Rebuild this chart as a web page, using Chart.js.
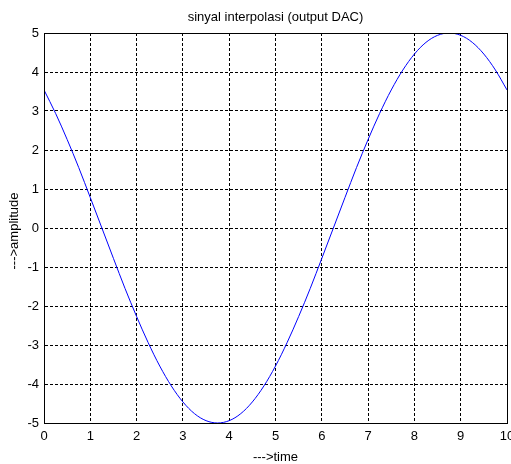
<!DOCTYPE html>
<html>
<head>
<meta charset="utf-8">
<script src="https://cdn.jsdelivr.net/npm/chart.js@4/dist/chart.umd.min.js"></script>
<style>
html,body{margin:0;padding:0;background:#fff;}
#wrap{width:511px;height:464px;position:relative;}
</style>
</head>
<body>
<div id="wrap"><canvas id="c" width="511" height="464"></canvas></div>
<script>
const chartTitle = "sinyal interpolasi (output DAC)";
const xLabel = "--->time";
const yLabel = "--->amplitude";
const timeValues = [0,0.25,0.5,0.75,1,1.25,1.5,1.75,2,2.25,2.5,2.75,3,3.25,3.5,3.75,4,4.25,4.5,4.75,5,5.25,5.5,5.75,6,6.25,6.5,6.75,7,7.25,7.5,7.75,8,8.25,8.5,8.75,9,9.25,9.5,9.75,10];
const amplitudeValues = [3.54,2.94,2.27,1.55,0.78,0,-0.78,-1.55,-2.27,-2.94,-3.54,-4.05,-4.46,-4.76,-4.94,-5,-4.94,-4.76,-4.46,-4.05,-3.54,-2.94,-2.27,-1.55,-0.78,0,0.78,1.55,2.27,2.94,3.54,4.05,4.46,4.76,4.94,5,4.94,4.76,4.46,4.05,3.54];
const xTicks = [0,1,2,3,4,5,6,7,8,9,10];
const yTicks = [-5,-4,-3,-2,-1,0,1,2,3,4,5];

const FONT = "'Liberation Sans', Arial, sans-serif";

const decor = {
  id: 'decor',
  afterDraw(chart) {
    const ctx = chart.ctx;
    const a = chart.chartArea;
    ctx.save();
    ctx.strokeStyle = '#000';
    ctx.lineWidth = 1;
    ctx.setLineDash([]);
    ctx.strokeRect(Math.round(a.left) + 0.5, Math.round(a.top) + 0.5, Math.round(a.right - a.left), Math.round(a.bottom - a.top));
    ctx.fillStyle = '#000';
    ctx.textAlign = 'center';
    ctx.textBaseline = 'middle';
    ctx.font = '13px ' + FONT;
    ctx.fillText(chartTitle, (a.left + a.right) / 2, 17);
    ctx.fillText(xLabel, (a.left + a.right) / 2, 457);
    ctx.translate(14, (a.top + a.bottom) / 2 + 3);
    ctx.rotate(-Math.PI / 2);
    ctx.fillText(yLabel, 0, 0);
    ctx.restore();
  }
};

new Chart(document.getElementById('c'), {
  type: 'line',
  data: {
    datasets: [{
      data: timeValues.map((t, i) => ({x: t, y: amplitudeValues[i]})),
      borderColor: '#0000ff',
      borderWidth: 1,
      pointRadius: 0,
      cubicInterpolationMode: 'monotone',
      fill: false
    }]
  },
  options: {
    responsive: false,
    animation: false,
    devicePixelRatio: 1,
    layout: {padding: {top: 33, right: 4, left: 0, bottom: 0}},
    plugins: {legend: {display: false}, tooltip: {enabled: false}, title: {display: false}},
    scales: {
      x: {
        type: 'linear', min: 0, max: 10,
        afterBuildTicks(s) { s.ticks = xTicks.map(v => ({value: v})); },
        afterFit(s) { s.height = 41; s.paddingLeft = 0; s.paddingRight = 0; },
        ticks: {color: '#000', font: {family: FONT, size: 13}, padding: 6, maxRotation: 0, autoSkip: false},
        grid: {color: '#000', lineWidth: 1, drawTicks: false, tickBorderDash: [3, 2]},
        border: {display: true, color: '#000', width: 1, dash: [3, 2]}
      },
      y: {
        type: 'linear', min: -5, max: 5,
        afterBuildTicks(s) { s.ticks = yTicks.map(v => ({value: v})); },
        afterFit(s) { s.width = 44; s.paddingTop = 0; s.paddingBottom = 0; },
        ticks: {color: '#000', font: {family: FONT, size: 13}, padding: 5, autoSkip: false},
        grid: {color: '#000', lineWidth: 1, drawTicks: false},
        border: {display: true, color: '#000', width: 1, dash: [3, 2]}
      }
    }
  },
  plugins: [decor]
});
</script>
</body>
</html>
